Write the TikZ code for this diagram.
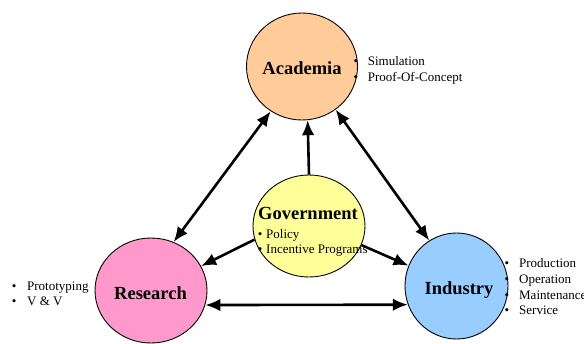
\documentclass[tikz,border=0pt]{standalone}
\usepackage{fontspec}
\setmainfont{Liberation Serif}
\usetikzlibrary{shapes.geometric,arrows.meta}
\definecolor{peach}{HTML}{FFCC99}
\definecolor{lyellow}{HTML}{FFFF99}
\definecolor{lpink}{HTML}{FF99CC}
\definecolor{lblue}{HTML}{99CCFF}
\begin{document}
\begin{tikzpicture}[x=1pt,y=-1pt,
  blob/.style={ellipse,draw=black,line width=0.9pt,inner sep=0pt},
  title/.style={font=\fontsize{18.5}{20}\selectfont\bfseries,anchor=base,inner sep=0pt},
  item/.style={font=\fontsize{13}{15}\selectfont,anchor=base west,inner sep=0pt},
  link/.style={line width=2.6pt,{Latex[length=15pt,width=12.5pt]}-{Latex[length=15pt,width=12.5pt]}},
  push/.style={line width=2.6pt,-{Latex[length=15pt,width=12.5pt]}}]
\useasboundingbox (0,0) rectangle (584,343);
% circles
\node[blob,fill=peach,minimum width=111pt,minimum height=107pt] (a) at (302,66.5) {};
\node[blob,fill=lyellow,minimum width=112pt,minimum height=102pt] (g) at (309,226) {};
\node[blob,fill=lpink,minimum width=112pt,minimum height=105pt] (r) at (151,290.5) {};
\node[blob,fill=lblue,minimum width=103pt,minimum height=106pt] (i) at (456.5,286) {};
% connectors
\draw[link] (a.235) -- (r.65);
\draw[link] (a.308) -- (i.121);
\draw[link] (r.345) -- (i.201);
\draw[push] (g.north) -- (a.276);
\draw[push] (g.194) -- (r.26);
\draw[push] (g.340) -- (i.157);
% titles
\node[title] (at) at (302,74) {Academia};
\node[title] (gt) at (308,219.3) {Government};
\node[title] (rt) at (150.5,299) {Research};
\node[title] (it) at (459,294) {Industry};
% lists
\node[item] (a1) at (353.4,65) {\makebox[14.3pt][l]{\textbullet}Simulation};
\node[item] (a2) at (353.4,81) {\makebox[14.3pt][l]{\textbullet}Proof-Of-Concept};
\node[item] (g1) at (257.7,238) {\makebox[8.3pt][l]{\textbullet}Policy};
\node[item] (g2) at (257.7,253.3) {\makebox[8.3pt][l]{\textbullet}Incentive Programs};
\node[item] (r1) at (11.7,290) {\makebox[15.3pt][l]{\textbullet}Prototyping};
\node[item] (r2) at (11.7,305.3) {\makebox[15.3pt][l]{\textbullet}V \& V};
\node[item] (i1) at (504.4,267.7) {\makebox[14.6pt][l]{\textbullet}Production};
\node[item] (i2) at (504.4,283.3) {\makebox[14.6pt][l]{\textbullet}Operation};
\node[item] (i3) at (504.4,299) {\makebox[14.6pt][l]{\textbullet}Maintenance};
\node[item] (i4) at (504.4,314.3) {\makebox[14.6pt][l]{\textbullet}Service};
\end{tikzpicture}
\end{document}
